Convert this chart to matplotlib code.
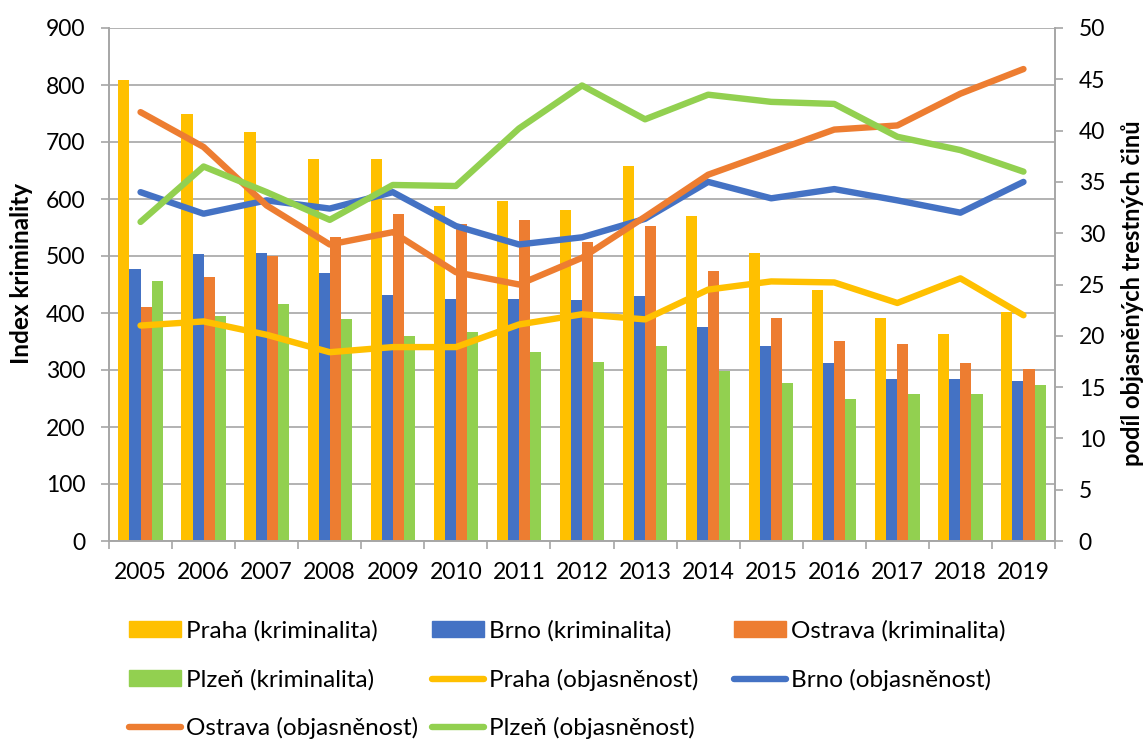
import matplotlib
matplotlib.use("Agg")
import matplotlib.pyplot as plt
import numpy as np
from matplotlib.patches import Patch
from matplotlib.lines import Line2D

plt.rcParams['font.family'] = ['Lato', 'DejaVu Sans']

# --- DATA ---
roky = [str(r) for r in range(2005, 2020)]
mesta = ['Praha', 'Brno', 'Ostrava', 'Plzeň']

# index kriminality (levá osa)
praha_krim = [808, 750, 717, 671, 671, 588, 596, 580, 658, 570, 505, 440, 391, 363, 401]
brno_krim = [478, 503, 505, 470, 431, 425, 424, 423, 429, 376, 342, 312, 284, 284, 281]
ostrava_krim = [410, 463, 500, 534, 573, 556, 563, 524, 553, 473, 392, 351, 346, 312, 301]
plzen_krim = [456, 395, 416, 389, 360, 366, 332, 314, 342, 299, 278, 250, 258, 258, 273]

# podil objasnenych trestnych cinu (prava osa)
praha_obj = [21.0, 21.4, 20.1, 18.4, 18.9, 18.9, 21.1, 22.1, 21.6, 24.5, 25.3, 25.2, 23.2, 25.6, 22.0]
brno_obj = [34.0, 31.9, 33.2, 32.4, 34.0, 30.7, 28.9, 29.6, 31.4, 35.0, 33.4, 34.3, 33.2, 32.0, 35.0]
ostrava_obj = [41.8, 38.4, 32.7, 28.9, 30.1, 26.2, 25.0, 27.6, 31.6, 35.7, 37.9, 40.1, 40.5, 43.6, 46.0]
plzen_obj = [31.1, 36.5, 34.0, 31.3, 34.7, 34.6, 40.2, 44.4, 41.1, 43.5, 42.8, 42.6, 39.4, 38.1, 36.0]

barvy = ['#FFC000', '#4472C4', '#ED7D31', '#92D050']
MRIZKA = '#a6a6a6'
W, H = 1145, 740

krim = [praha_krim, brno_krim, ostrava_krim, plzen_krim]
obj = [praha_obj, brno_obj, ostrava_obj, plzen_obj]

fig = plt.figure(figsize=(W / 100, H / 100), dpi=100)
ax = fig.add_axes([109 / W, 1 - 541 / H, 946 / W, 513 / H])
ax2 = ax.twinx()

x = np.arange(len(roky))
sirka = 0.176
for i, (hodnoty, barva) in enumerate(zip(krim, barvy)):
    ax.bar(x + (i - 1.5) * sirka, hodnoty, width=sirka, color=barva, zorder=2)

for hodnoty, barva in zip(obj, barvy):
    ax2.plot(x, hodnoty, color=barva, lw=4.6, solid_capstyle='round',
             solid_joinstyle='round', zorder=3)

# osy
ax.set_xlim(-0.5, len(roky) - 0.5)
ax.set_ylim(0, 900)
ax.set_yticks(range(0, 901, 100))
ax2.set_ylim(0, 50)
ax2.set_yticks(range(0, 51, 5))
ax.grid(axis='y', color=MRIZKA, lw=1.2, zorder=0)
ax.set_axisbelow(True)

ax.set_xticks(x)
ax.set_xticklabels(roky)
ax.set_xticks(np.arange(-0.5, len(roky), 1), minor=True)
ax.tick_params(axis='x', which='major', length=0, pad=15, labelsize=16.5)
ax.tick_params(axis='x', which='minor', length=6, color=MRIZKA, width=1.2)
ax.tick_params(axis='y', length=6, color=MRIZKA, width=1.2, labelsize=16.5, pad=11)
ax2.tick_params(axis='y', length=6, color=MRIZKA, width=1.2, labelsize=16.5, pad=11)

for a in (ax, ax2):
    a.spines['top'].set_visible(False)
    for s in ('left', 'right', 'bottom'):
        a.spines[s].set_color(MRIZKA)
        a.spines[s].set_linewidth(1.2)

ax.set_ylabel('Index kriminality', fontsize=17.5, fontweight='bold')
ax.yaxis.set_label_coords((33 - 109) / 946, (541 - 274) / 513)
ax2.set_ylabel('podíl objasněných trestných činů', fontsize=17, fontweight='bold')
ax2.yaxis.set_label_coords((1121 - 109) / 946, (541 - 293) / 513)

# legenda - radkove poradi jako v Excelu, kazda polozka zvlast
ploch = [Patch(color=b) for b in barvy]
car = [Line2D([], [], color=b, lw=4.6, solid_capstyle='round') for b in barvy]
handles = ploch + car
labels = [m + ' (kriminalita)' for m in mesta] + [m + ' (objasněnost)' for m in mesta]
sloupce = [129, 432, 734]
radky = [631, 680, 728]
for k, (h, t) in enumerate(zip(handles, labels)):
    r, s = divmod(k, 3)
    fig.legend([h], [t], loc='center left',
               bbox_to_anchor=(sloupce[s] / W, 1 - radky[r] / H),
               frameon=False, fontsize=17.5, handlelength=2.14, handleheight=0.62,
               handletextpad=0.2, borderpad=0, borderaxespad=0)

fig.savefig('out.png', dpi=100)
